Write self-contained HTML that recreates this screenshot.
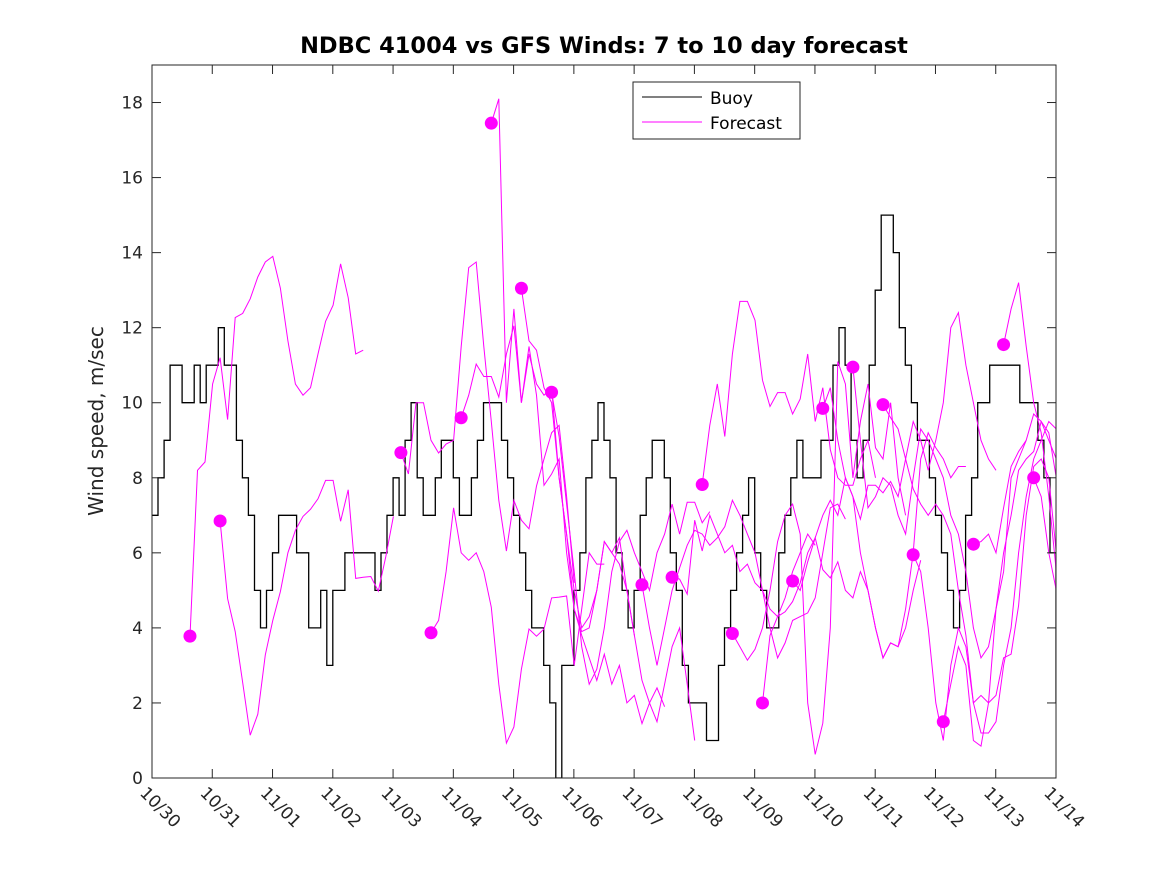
<!DOCTYPE html>
<html><head><meta charset="utf-8"><style>
body{margin:0;background:#fff;}
svg{display:block;font-family:"DejaVu Sans","Liberation Sans",sans-serif;}
</style></head><body>
<svg id="chart" width="1167" height="875" viewBox="0 0 1167 875" xmlns="http://www.w3.org/2000/svg">
<rect width="1167" height="875" fill="#fff"/>
<text x="604" y="53" text-anchor="middle" font-size="22.5" font-weight="bold" fill="#000">NDBC 41004 vs GFS Winds: 7 to 10 day forecast</text>
<text transform="translate(103,421) rotate(-90)" text-anchor="middle" font-size="20" fill="#262626">Wind speed, m/sec</text>
<g id="plot"></g>
</svg>
<script>
const xTickLabels=["10/30","10/31","11/01","11/02","11/03","11/04","11/05","11/06","11/07","11/08","11/09","11/10","11/11","11/12","11/13","11/14"];
const yTicks=[0,2,4,6,8,10,12,14,16,18];
const buoy=[7,8,9,11,11,10,10,11,10,11,11,12,11,11,9,8,7,5,4,5,6,7,7,7,6,6,4,4,5,3,5,5,6,6,6,6,6,5,6,7,8,7,9,10,8,7,7,8,9,9,8,7,7,8,9,10,10,10,9,8,7,6,5,4,4,3,2,0,3,3,5,6,8,9,10,9,8,6,5,4,5,7,8,9,9,8,6,5,3,2,2,2,1,1,3,4,5,6,7,8,6,5,4,4,6,7,8,9,8,8,8,9,9,11,12,11,9,8,9,11,13,15,15,14,12,11,10,9,9,8,7,6,5,4,5,7,8,10,10,11,11,11,11,11,10,10,10,9,8,6,2];
const fcStarts=[0.63,1.13,4.13,4.63,5.13,5.63,6.13,6.63,8.13,8.63,9.13,9.63,10.13,10.63,11.13,11.63,12.13,12.63,13.13,13.63,14.13,14.63];
const fc0=[3.78,8.2,8.42,10.5,11.2,9.55,12.27,12.38,12.77,13.35,13.75,13.9,13.05,11.65,10.5,10.2,10.4,11.3,12.17,12.6,13.7,12.8,11.3,11.4];
const fc1=[6.85,4.78,3.9,2.54,1.14,1.7,3.28,4.2,4.97,6.0,6.6,6.97,7.16,7.44,7.93,7.93,6.84,7.68,5.32,5.35,5.37,4.98,5.9,6.97];
const fc2=[8.67,8.1,10.0,10.0,9.0,8.66,8.9,9.0,11.5,13.6,13.75,11.5,9.5,7.4,6.05,7.4,6.87,6.64,7.78,8.5,9.2,9.4,7.5,5.2];
const fc3=[3.87,4.2,5.5,7.2,6.0,5.8,6.0,5.5,4.55,2.5,0.93,1.36,2.9,3.97,3.78,3.97,4.8,4.82,4.85,3.0,4.5,6.0,5.7,5.7];
const fc4=[9.6,10.2,11.03,10.7,10.7,10.15,11.3,12.05,10.0,11.3,10.5,10.2,10.4,8.0,6.5,4.5,3.9,4.0,5.0,6.3,6.0,6.4,5.0,3.8];
const fc5=[17.45,18.1,10.0,12.5,10.0,11.5,10.2,7.8,8.1,8.5,6.0,4.5,3.8,3.2,2.6,3.3,2.5,3.0,2.0,2.2,1.45,2.0,2.4,1.9];
const fc6=[13.05,11.65,11.4,10.4,10.0,8.0,6.5,5.0,4.0,4.3,5.0,6.3,6.0,5.7,5.0,3.8,2.6,2.0,1.5,2.5,3.5,4.0,2.5,1.0];
const fc7=[10.28,9.1,7.3,5.5,3.5,2.5,2.9,4.0,5.5,6.3,6.6,6.0,5.5,5.0,6.0,6.5,7.3,6.5,7.35,7.35,6.8,7.1];
const fc8=[5.15,4.0,3.0,4.0,5.0,5.6,6.2,6.6,6.5,6.2,6.4,6.7,7.4,7.0,6.5,6.0,5.0,4.5,4.3,4.8,5.5,6.0,6.5,6.2];
const fc9=[5.35,5.3,4.9,6.87,6.05,7.0,6.5,6.0,6.2,5.5,5.7,5.2,5.0,4.0,3.2,3.6,4.2,4.3,4.4,4.8,6.0,7.2,7.3,6.9];
const fc10=[7.82,9.4,10.5,9.1,11.3,12.7,12.7,12.2,10.6,9.9,10.27,10.27,9.7,10.1,11.3,9.5,10.4,8.75,8.0,7.8,7.8,8.5,9.0,8.0];
const fc11=[3.85,3.5,3.14,3.43,4.0,5.0,6.3,7.0,7.3,6.5,2.0,0.63,1.46,4.0,11.1,10.5,8.0,9.5,10.5,8.8,8.5,10.0,8.0,7.0];
const fc12=[2.0,3.8,4.3,4.43,4.7,5.2,6.0,6.4,7.0,7.4,7.0,8.0,7.5,6.0,5.0,4.0,3.2,3.6,3.5,4.0,5.0,5.8];
const fc13=[5.25,5.0,5.76,6.4,5.55,5.33,5.76,5.0,4.8,5.5,5.0,4.0,3.2,3.6,3.5,4.5,6.0,8.5,9.2,8.8,8.5,8.0,8.3,8.3];
const fc14=[9.85,10.4,9.0,8.0,7.5,6.9,7.8,7.8,7.6,7.9,7.5,8.5,9.5,9.0,8.2,9.0,10.0,12.0,12.4,11.0,10.0,9.0,8.5,8.2];
const fc15=[10.95,9.0,7.2,7.5,8.0,7.8,7.0,6.5,8.0,9.3,9.0,8.5,8.0,7.0,6.5,5.5,4.0,3.2,3.5,4.5,5.5,8.0,8.5,9.0];
const fc16=[9.95,9.6,9.3,8.5,7.7,7.3,7.0,7.3,7.0,6.5,5.0,3.8,2.0,1.2,1.2,1.5,3.0,4.0,6.0,7.5,8.5,9.0,9.5,9.3];
const fc17=[5.95,5.5,4.0,2.0,1.0,3.0,4.0,3.5,2.0,2.2,2.0,2.2,3.2,3.3,4.6,7.0,8.3,8.5,8.0,6.0,4.0,3.3];
const fc18=[1.5,2.5,3.5,3.0,1.0,0.85,2.0,4.5,6.0,7.0,8.2,8.5,8.7,9.5,9.2,8.0,7.5,6.0,4.0,3.0,1.9,1.9];
const fc19=[6.23,6.3,6.5,6.0,7.2,8.3,8.7,9.0,9.7,9.5,9.0,8.5,8.0,7.0,5.5,3.3,3.5];
const fc20=[11.55,12.5,13.2,11.5,10.0,9.2,7.5,5.5,4.0,3.0];
const fc21=[8.0,7.5,6.0,5.0];
const forecasts=[fc0,fc1,fc2,fc3,fc4,fc5,fc6,fc7,fc8,fc9,fc10,fc11,fc12,fc13,fc14,fc15,fc16,fc17,fc18,fc19,fc20,fc21];

const L=152,R=1056,T=65,B=778,XMAX=15,YMAX=19;
const xs=d=>L+(R-L)*d/XMAX;
const ys=v=>B-(B-T)*v/YMAX;
const NS="http://www.w3.org/2000/svg";
const g=document.getElementById('plot');
function mk(tag,attrs,parent){const e=document.createElementNS(NS,tag);for(const k in attrs)e.setAttribute(k,attrs[k]);(parent||g).appendChild(e);return e;}

const clip=mk('clipPath',{id:'pc'});
mk('rect',{x:L,y:T,width:R-L,height:B-T},clip);

let d='';
buoy.forEach((v,i)=>{const x0=xs(i/10),x1=xs(Math.min((i+1)/10,XMAX));d+=(i?'L':'M')+x0.toFixed(1)+','+ys(v).toFixed(1)+'L'+x1.toFixed(1)+','+ys(v).toFixed(1);});
const bl=mk('path',{d:d,fill:'none',stroke:'#000','stroke-width':1.3,'clip-path':'url(#pc)'});



forecasts.forEach((arr,k)=>{
  const t0=fcStarts[k];
  const pts=arr.map((v,i)=>xs(t0+i*0.125).toFixed(1)+','+ys(v).toFixed(1)).join(' ');
  const pl=mk('polyline',{points:pts,fill:'none',stroke:'#ff00ff','stroke-width':1,'clip-path':'url(#pc)'});
  
  
  const c=mk('circle',{cx:xs(t0),cy:ys(arr[0]),r:6.5,fill:'#ff00ff'});
  
  
});

const box=mk('rect',{x:L,y:T,width:R-L,height:B-T,fill:'none',stroke:'#262626','stroke-width':1});



yTicks.forEach(v=>{
  const y=ys(v);
  mk('line',{x1:L,x2:L+9,y1:y,y2:y,stroke:'#262626'});
  mk('line',{x1:R,x2:R-9,y1:y,y2:y,stroke:'#262626'});
  const t=mk('text',{x:L-9,y:y+6,'text-anchor':'end','font-size':17,fill:'#262626'});
  t.textContent=v;
  
  
});
xTickLabels.forEach((lab,i)=>{
  const x=xs(i);
  mk('line',{x1:x,x2:x,y1:B,y2:B-9,stroke:'#262626'});
  mk('line',{x1:x,x2:x,y1:T,y2:T+9,stroke:'#262626'});
  const t=mk('text',{transform:`translate(${x-13},${B+16}) rotate(45)`,'font-size':17,fill:'#262626'});
  t.textContent=lab;
  
  
});

const lg=mk('g',{});


mk('rect',{x:633,y:82,width:167,height:57,fill:'#fff',stroke:'#262626'},lg);
mk('line',{x1:642,x2:702,y1:97,y2:97,stroke:'#000'},lg);
mk('line',{x1:642,x2:702,y1:122,y2:122,stroke:'#ff00ff'},lg);
const t1=mk('text',{x:710,y:104,'font-size':17,fill:'#000'},lg);t1.textContent='Buoy';


const t2=mk('text',{x:710,y:129,'font-size':17,fill:'#000'},lg);t2.textContent='Forecast';


</script>
</body></html>
